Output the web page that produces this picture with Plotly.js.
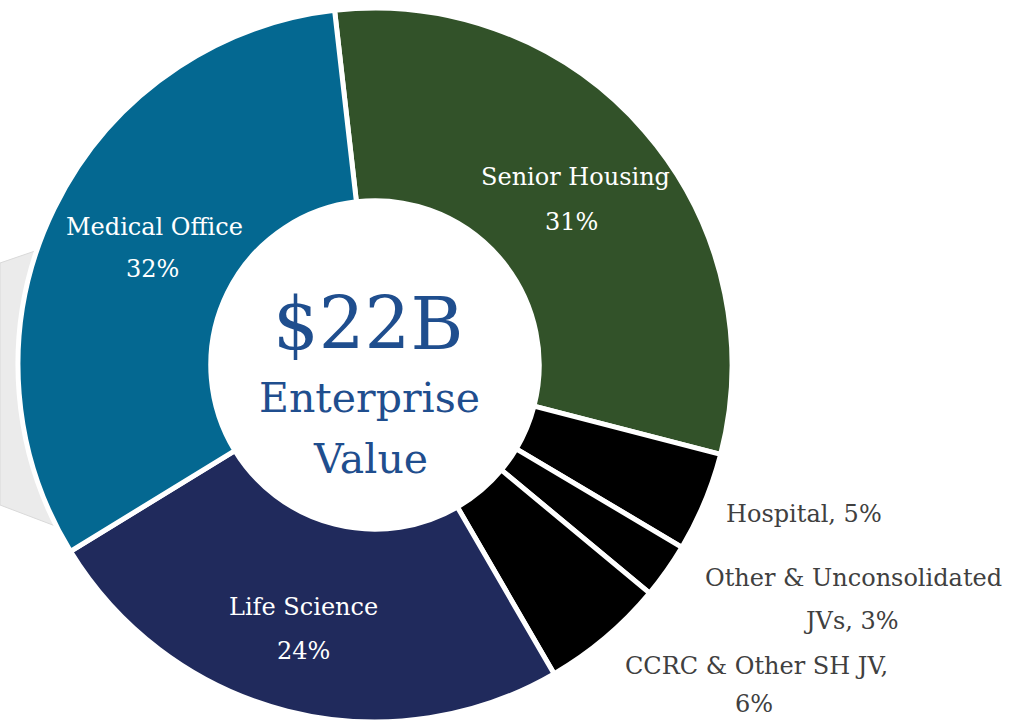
<!DOCTYPE html>
<html>
<head>
<meta charset="utf-8">
<script src="https://cdn.plot.ly/plotly-3.0.1.min.js"></script>
<style>
  html, body { margin: 0; padding: 0; background: #ffffff; }
  #chart { width: 1020px; height: 722px; }
</style>
</head>
<body>
<div id="chart"></div>
<script>
// ---- data ----
const sliceLabels = ['Senior Housing', 'Hospital', 'Other & Unconsolidated JVs', 'CCRC & Other SH JV', 'Life Science', 'Medical Office'];
const sliceValues = [30.8, 4.5, 2.5, 5.6, 24.6, 31.9];   // measured slice sizes (%)
const shownPct    = [31, 5, 3, 6, 24, 32];               // percentages printed on the chart
const centerValue = '$22B';
const centerCaption = ['Enterprise', 'Value'];

// ---- styles ----
const sliceColors = ['#325229', '#000000', '#000000', '#000000', '#202a5c', '#046891'];
const FONT = "'DejaVu Serif', Georgia, 'Liberation Serif', serif";
const W = 1020, H = 722;
const px = x => x / W;
const py = y => 1 - y / H;

// text lines for each slice label
function labelLines(i) {
  const l = sliceLabels[i], p = shownPct[i] + '%';
  if (l === 'Hospital') return [l + ', ' + p];
  if (l === 'Other & Unconsolidated JVs') {
    const words = l.split(' ');
    const last = words.pop();
    return [words.join(' '), last + ', ' + p];
  }
  if (l === 'CCRC & Other SH JV') return [l + ',', p];
  return [l, p];
}
const insideIdx = [0, 4, 5];
// label anchor positions in pixels (one per text line)
const linePos = {
  0: [[575, 177], [571, 222]],
  4: [[303, 607], [303, 651]],
  5: [[154, 227], [152, 269]],
  1: [[804, 514]],
  2: [[853, 578], [851, 621]],
  3: [[756, 666], [754, 704]]
};

const annotations = [];
Object.keys(linePos).forEach(k => {
  const i = +k;
  const lines = labelLines(i);
  const inside = insideIdx.includes(i);
  lines.forEach((t, j) => {
    annotations.push({
      xref: 'paper', yref: 'paper', x: px(linePos[k][j][0]), y: py(linePos[k][j][1]),
      xanchor: 'center', yanchor: 'middle', showarrow: false, align: 'center',
      text: t, font: {family: FONT, size: 24, color: inside ? '#ffffff' : '#404040'}
    });
  });
});
annotations.push({
  xref: 'paper', yref: 'paper', x: px(368), y: py(324), xanchor: 'center', yanchor: 'middle',
  showarrow: false, text: centerValue, font: {family: FONT, size: 72, color: '#1f4e8e'}
});
annotations.push({
  xref: 'paper', yref: 'paper', x: px(369), y: py(398), xanchor: 'center', yanchor: 'middle',
  showarrow: false, text: centerCaption[0], font: {family: FONT, size: 41, color: '#1f4e8e'}
});
annotations.push({
  xref: 'paper', yref: 'paper', x: px(370), y: py(459), xanchor: 'center', yanchor: 'middle',
  showarrow: false, text: centerCaption[1], font: {family: FONT, size: 41, color: '#1f4e8e'}
});

const trace = {
  type: 'pie',
  labels: sliceLabels,
  values: sliceValues,
  textinfo: 'none',
  hole: 0.46,
  sort: false,
  direction: 'clockwise',
  rotation: -6.5,
  marker: {colors: sliceColors, line: {color: '#ffffff', width: 5}},
  domain: {x: [px(18), px(732)], y: [0, 714 / H]},
  hoverinfo: 'label+percent'
};

// decorative grey panel peeking out from behind the ring on the left
const panelPath = 'M ' + px(0) + ' ' + py(263) + ' L ' + px(38) + ' ' + py(250) + ' L ' + px(150) + ' ' + py(250) +
  ' L ' + px(150) + ' ' + py(528) + ' L ' + px(58) + ' ' + py(527) + ' L ' + px(0) + ' ' + py(505) + ' Z';

const layout = {
  width: W, height: H,
  margin: {l: 0, r: 0, t: 0, b: 0},
  paper_bgcolor: '#ffffff',
  showlegend: false,
  annotations: annotations,
  shapes: [{
    type: 'path', xref: 'paper', yref: 'paper', path: panelPath, layer: 'below',
    fillcolor: '#ebebeb', line: {color: '#d9d9d9', width: 1}
  }]
};

Plotly.newPlot('chart', [trace], layout, {displayModeBar: false, staticPlot: true});
</script>
</body>
</html>
